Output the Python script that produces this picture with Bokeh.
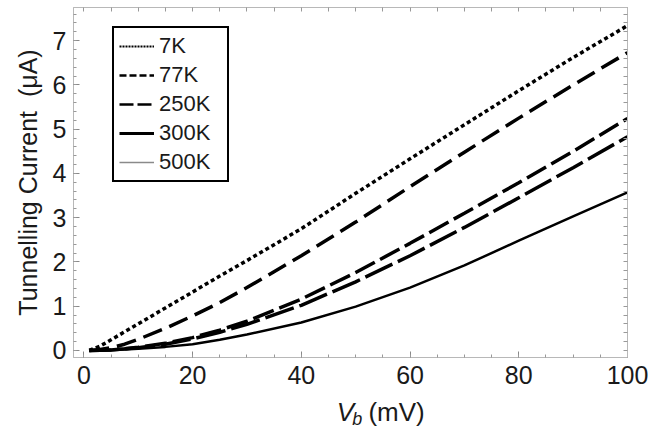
from bokeh.plotting import figure
from bokeh.layouts import column
from bokeh.models import Range1d, LinearAxis, FixedTicker, Legend, LegendItem
from bokeh.core.properties import value
from bokeh.embed import file_html
from bokeh.resources import INLINE

# ---- data ----
vb = [1, 3, 5, 7.5, 10, 15, 20, 25, 30, 40, 50, 60, 70, 80, 90, 100]
i_7K = [0.0, 0.10, 0.24, 0.42, 0.60, 0.96, 1.32, 1.68, 2.03, 2.75, 3.55, 4.33, 5.10, 5.87, 6.62, 7.34]
i_77K = [0.0, 0.02, 0.06, 0.14, 0.25, 0.50, 0.78, 1.08, 1.42, 2.14, 2.90, 3.70, 4.48, 5.25, 6.00, 6.73]
i_250K = [0.0, 0.005, 0.015, 0.04, 0.07, 0.16, 0.29, 0.46, 0.66, 1.16, 1.76, 2.42, 3.10, 3.79, 4.50, 5.24]
i_300K = [0.0, 0.004, 0.012, 0.035, 0.06, 0.14, 0.26, 0.41, 0.59, 1.02, 1.55, 2.14, 2.78, 3.45, 4.13, 4.83]
i_500K = [0.0, 0.002, 0.006, 0.018, 0.035, 0.08, 0.14, 0.24, 0.36, 0.63, 0.99, 1.42, 1.92, 2.48, 3.03, 3.57]
labels = ["7K", "77K", "250K", "300K", "500K"]
x_ticks = [0, 20, 40, 60, 80, 100]
y_ticks = [0, 1, 2, 3, 4, 5, 6, 7]
y_title = "Tunnelling Current\u00a0\u00a0(\u03bcA)"
x_title_parts = ["V", "b", "(mV)"]

FONT = "Liberation Sans"
FRAME = "#b8b8b8"
TXT = "#1a1a1a"

p = figure(width=648, height=394, output_backend="svg", toolbar_location=None,
           x_range=Range1d(-1.9, 100), y_range=Range1d(-0.16, 7.75),
           min_border_left=73, min_border_right=21, min_border_top=7, min_border_bottom=37,
           x_axis_location=None, y_axis_location=None)
p.grid.visible = False
p.outline_line_color = FRAME
p.outline_line_width = 1
p.border_fill_color = "white"

def style_axis(ax):
    ax.axis_line_color = FRAME
    ax.major_tick_line_color = "#888888"
    ax.minor_tick_line_color = "#999999"
    ax.major_tick_in = 6
    ax.major_tick_out = 0
    ax.minor_tick_in = 3
    ax.minor_tick_out = 0
    ax.major_label_text_font = FONT
    ax.major_label_text_color = TXT
    ax.major_label_text_font_size = "25px"
    ax.major_label_standoff = 8
    ax.axis_label_text_font = FONT
    ax.axis_label_text_font_style = "normal"
    ax.axis_label_text_color = TXT
    return ax

x_minor = [v * 5 for v in range(0, 21)]
y_minor = [round(v * 0.2, 2) for v in range(0, 39)]

xb = style_axis(LinearAxis(ticker=FixedTicker(ticks=x_ticks, minor_ticks=x_minor)))
p.add_layout(xb, "below")

yl = style_axis(LinearAxis(ticker=FixedTicker(ticks=y_ticks, minor_ticks=y_minor)))
yl.major_label_standoff = 7
yl.axis_label = y_title
yl.axis_label_text_font_size = "25px"
yl.axis_label_standoff = 8
p.add_layout(yl, "left")

# mirrored tick marks (no labels) on top and right
xt = style_axis(LinearAxis(ticker=FixedTicker(ticks=[], minor_ticks=x_minor)))
xt.minor_tick_in = 4
p.add_layout(xt, "above")
yr = style_axis(LinearAxis(ticker=FixedTicker(ticks=[], minor_ticks=y_minor)))
yr.minor_tick_in = 4
p.add_layout(yr, "right")

# ---- curves ----
p.line(vb, i_7K, line_color="black", line_width=3.5, line_dash="4 3")
p.line(vb, i_77K, line_color="black", line_width=3.5, line_dash="20 8")
p.line(vb, i_250K, line_color="black", line_width=3.5, line_dash="22 6")
p.line(vb, i_300K, line_color="black", line_width=3.5, line_dash="30 6")
p.line(vb, i_500K, line_color="black", line_width=2.5)

# ---- legend (styled like the reference key) ----
leg_styles = [
    dict(line_color="black", line_width=2, line_dash="2 1"),
    dict(line_color="black", line_width=2.5, line_dash="7 3"),
    dict(line_color="black", line_width=2.5, line_dash="14 4"),
    dict(line_color="black", line_width=3),
    dict(line_color="#8a8a8a", line_width=1.5),
]
nan = float("nan")
items = []
for lab, st in zip(labels, leg_styles):
    r = p.line(x=[nan, nan], y=[nan, nan], **st)
    items.append(LegendItem(label=lab, renderers=[r]))

legend = Legend(items=items, location=(39, 175))
legend.label_text_font = FONT
legend.label_text_font_size = "22px"
legend.label_text_color = TXT
legend.glyph_width = 35
legend.glyph_height = 24
legend.label_height = 24
legend.label_width = 63
legend.spacing = 3
legend.padding = 5
legend.margin = 0
legend.label_standoff = 5
legend.border_line_color = "black"
legend.border_line_width = 2
legend.border_line_alpha = 1
legend.background_fill_color = "white"
legend.background_fill_alpha = 1
p.add_layout(legend, "center")

# ---- x axis title strip: V_b (mV) ----
q = figure(width=648, height=42, output_backend="svg", toolbar_location=None,
           x_range=Range1d(0, 648), y_range=Range1d(0, 42),
           min_border=0, x_axis_location=None, y_axis_location=None)
q.grid.visible = False
q.outline_line_color = None
q.border_fill_color = "white"
q.text(x=[308], y=[25], text=[x_title_parts[0]], text_font=value(FONT), text_font_size="26px",
       text_font_style="italic", text_baseline="middle", text_color=TXT)
q.text(x=[326], y=[18], text=[x_title_parts[1]], text_font=value(FONT), text_font_size="18px",
       text_font_style="italic", text_baseline="middle", text_color=TXT)
q.text(x=[345], y=[25], text=[x_title_parts[2]], text_font=value(FONT), text_font_size="26px",
       text_baseline="middle", text_color=TXT)

layout = column(p, q, spacing=0)
open("out.html", "w").write(file_html(layout, INLINE))
